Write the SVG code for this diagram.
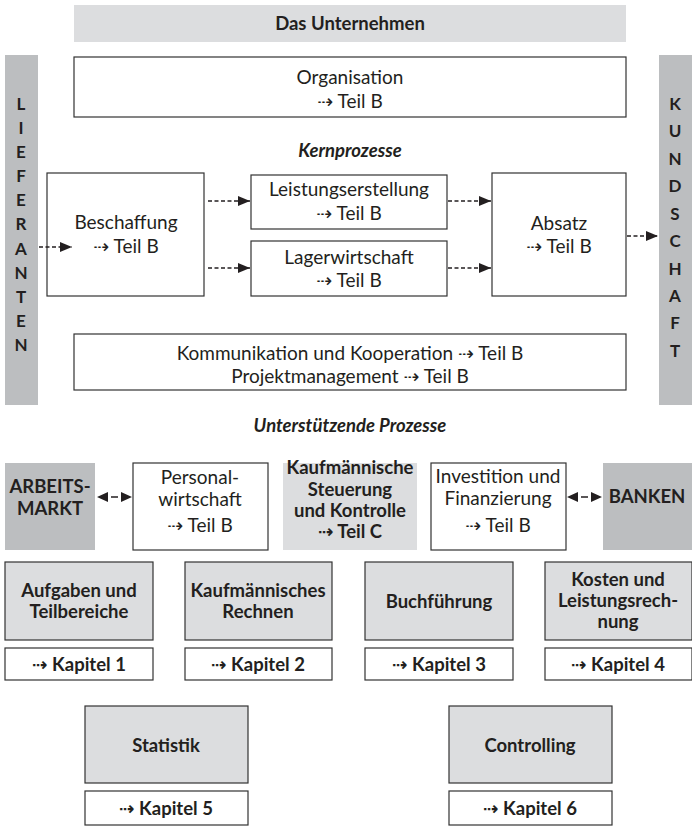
<svg xmlns="http://www.w3.org/2000/svg" width="692" height="827" viewBox="0 0 692 827">
<style>
text{font-family:Lato,"Open Sans","DejaVu Sans",sans-serif;fill:#231f20;font-size:19px;text-anchor:middle;dominant-baseline:central}
.b{font-weight:bold;font-size:18.5px}
.v{font-weight:bold;font-size:17px}
.i{font-style:italic;font-weight:bold;font-size:18.5px}
.box{fill:#fff;stroke:#333;stroke-width:1.2}
.gb{fill:#dcdddf;stroke:#333;stroke-width:1.2}
.lg{fill:#dcdddf}
.mg{fill:#bcbec0}
.c{fill:none;stroke:#231f20;stroke-width:1.5;stroke-dasharray:4 2.5}
</style>
<defs>
<marker id="ah" markerWidth="12" markerHeight="10" refX="12" refY="5" orient="auto" markerUnits="userSpaceOnUse"><path d="M0,0 L12,5 L0,10 z" fill="#231f20"/></marker>
</defs>
<g id="unternehmen"><rect x="74" y="5" width="552" height="37" class="lg"/><text x="350" y="23" class="b">Das Unternehmen</text></g>
<g id="lieferanten"><rect x="5" y="55" width="33" height="350" class="mg"/>
<text x="21" y="103" class="v">L</text><text x="21" y="127" class="v">I</text><text x="21" y="151" class="v">E</text><text x="21" y="175" class="v">F</text><text x="21" y="199" class="v">E</text><text x="21" y="223" class="v">R</text><text x="21" y="248" class="v">A</text><text x="21" y="272" class="v">N</text><text x="21" y="296" class="v">T</text><text x="21" y="320" class="v">E</text><text x="21" y="344" class="v">N</text></g>
<g id="kundschaft"><rect x="659" y="55" width="33" height="350" class="mg"/>
<text x="675" y="103" class="v">K</text><text x="675" y="130" class="v">U</text><text x="675" y="158" class="v">N</text><text x="675" y="185" class="v">D</text><text x="675" y="213" class="v">S</text><text x="675" y="240" class="v">C</text><text x="675" y="268" class="v">H</text><text x="675" y="295" class="v">A</text><text x="675" y="322" class="v">F</text><text x="675" y="350" class="v">T</text></g>
<g id="organisation"><rect x="74" y="57" width="552" height="60" class="box"/><text x="350" y="76">Organisation</text><text x="350" y="100">⇢ Teil B</text></g>
<text x="350" y="150" class="i">Kernprozesse</text>
<g id="beschaffung"><rect x="47" y="173" width="157" height="123" class="box"/><text x="126" y="221">Beschaffung</text><text x="126" y="245">⇢ Teil B</text></g>
<g id="leistungserstellung"><rect x="251" y="175" width="196" height="54" class="box"/><text x="349" y="188">Leistungserstellung</text><text x="349" y="212">⇢ Teil B</text></g>
<g id="lagerwirtschaft"><rect x="251" y="241" width="196" height="55" class="box"/><text x="349" y="256">Lagerwirtschaft</text><text x="349" y="279">⇢ Teil B</text></g>
<g id="absatz"><rect x="492" y="173" width="134" height="123" class="box"/><text x="559" y="222">Absatz</text><text x="559" y="245">⇢ Teil B</text></g>
<g id="kommunikation"><rect x="74" y="334" width="552" height="56" class="box"/><text x="350" y="352">Kommunikation und Kooperation ⇢ Teil B</text><text x="350" y="375">Projektmanagement ⇢ Teil B</text></g>
<text x="350" y="425" class="i">Unterstützende Prozesse</text>
<g id="arbeitsmarkt"><rect x="5" y="463" width="90" height="87" class="mg"/><text x="50" y="486" class="b">ARBEITS-</text><text x="50" y="508" class="b">MARKT</text></g>
<g id="personal"><rect x="133" y="463" width="135" height="87" class="box"/><text x="200" y="476">Personal-</text><text x="200" y="498">wirtschaft</text><text x="200" y="524">⇢ Teil B</text></g>
<g id="steuerung"><rect x="283" y="463" width="134" height="87" class="lg"/><text x="350" y="467" class="b">Kaufmännische</text><text x="350" y="489" class="b">Steuerung</text><text x="350" y="510" class="b">und Kontrolle</text><text x="350" y="531" class="b">⇢ Teil C</text></g>
<g id="investition"><rect x="431" y="463" width="135" height="87" class="box"/><text x="498" y="475">Investition und</text><text x="498" y="497">Finanzierung</text><text x="498" y="524">⇢ Teil B</text></g>
<g id="banken"><rect x="603" y="463" width="89" height="87" class="mg"/><text x="647" y="496" class="b">BANKEN</text></g>
<g id="k1"><rect x="5" y="562" width="148" height="78" class="gb"/><text x="79" y="590" class="b">Aufgaben und</text><text x="79" y="611" class="b">Teilbereiche</text><rect x="5" y="648" width="148" height="32" class="box"/><text x="79" y="664" class="b">⇢ Kapitel 1</text></g>
<g id="k2"><rect x="185" y="562" width="147" height="78" class="gb"/><text x="258" y="590" class="b">Kaufmännisches</text><text x="258" y="611" class="b">Rechnen</text><rect x="185" y="648" width="147" height="32" class="box"/><text x="258" y="664" class="b">⇢ Kapitel 2</text></g>
<g id="k3"><rect x="365" y="562" width="148" height="78" class="gb"/><text x="439" y="601" class="b">Buchführung</text><rect x="365" y="648" width="148" height="32" class="box"/><text x="439" y="664" class="b">⇢ Kapitel 3</text></g>
<g id="k4"><rect x="545" y="562" width="147" height="78" class="gb"/><text x="618" y="579" class="b">Kosten und</text><text x="618" y="600" class="b">Leistungsrech-</text><text x="618" y="621" class="b">nung</text><rect x="545" y="648" width="147" height="32" class="box"/><text x="618" y="664" class="b">⇢ Kapitel 4</text></g>
<g id="k5"><rect x="85" y="706" width="163" height="77" class="gb"/><text x="166" y="745" class="b">Statistik</text><rect x="85" y="791" width="163" height="34" class="box"/><text x="166" y="808" class="b">⇢ Kapitel 5</text></g>
<g id="k6"><rect x="449" y="706" width="163" height="77" class="gb"/><text x="530" y="745" class="b">Controlling</text><rect x="449" y="791" width="163" height="34" class="box"/><text x="530" y="808" class="b">⇢ Kapitel 6</text></g>
<g id="connectors">
<path class="c" d="M39,247 H72" marker-end="url(#ah)"/>
<path class="c" d="M208,201 H250" marker-end="url(#ah)"/>
<path class="c" d="M208,268 H250" marker-end="url(#ah)"/>
<path class="c" d="M448,201 H491" marker-end="url(#ah)"/>
<path class="c" d="M448,268 H491" marker-end="url(#ah)"/>
<path class="c" d="M627,236 H658" marker-end="url(#ah)"/>
<path d="M97,497 L108,492 L108,502 z M132,497 L121,492 L121,502 z" fill="#231f20"/>
<path d="M111,497 H118" stroke="#231f20" stroke-width="1.5"/>
<path d="M567,497 L578,492 L578,502 z M602,497 L591,492 L591,502 z" fill="#231f20"/>
<path d="M581,497 H588" stroke="#231f20" stroke-width="1.5"/>
</g>
</svg>
